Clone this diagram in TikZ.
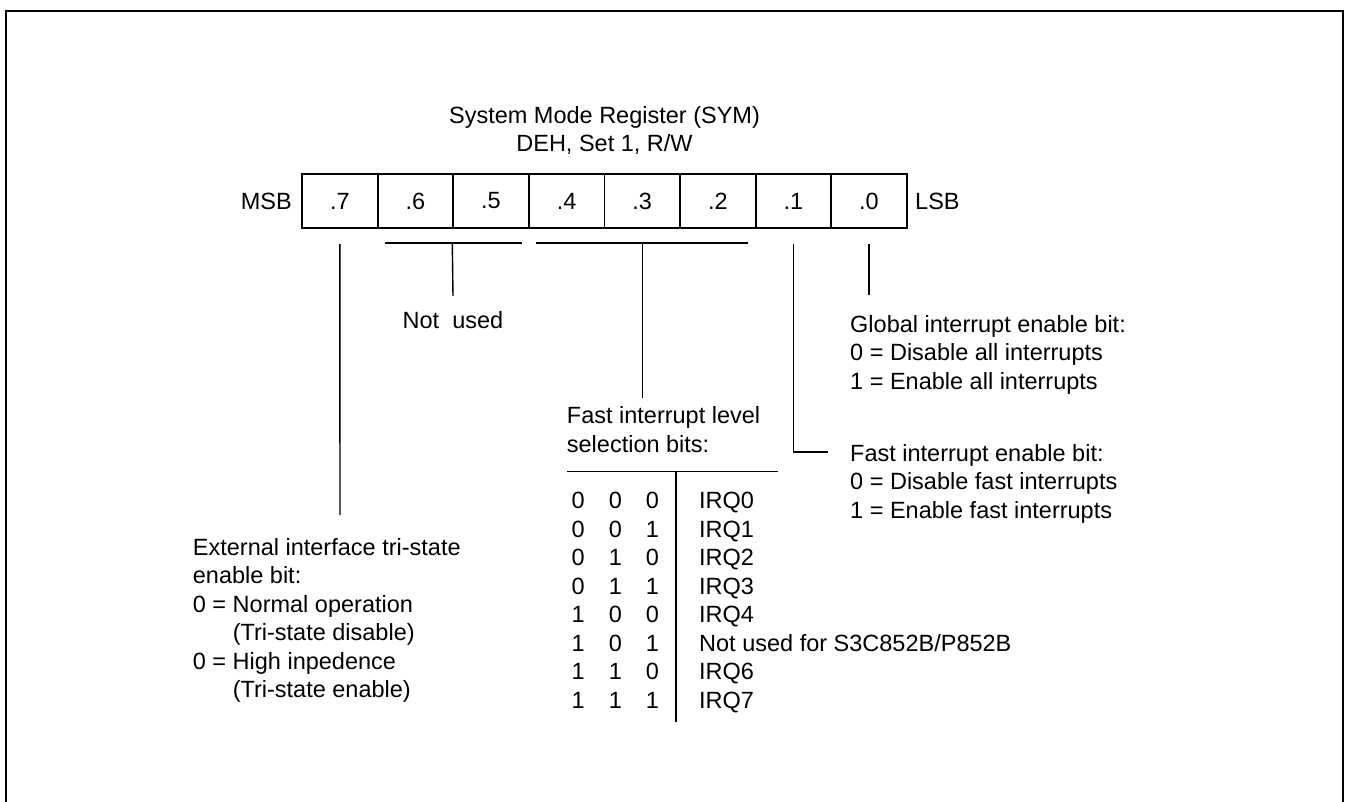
\documentclass[tikz,border=0pt]{standalone}
\usepackage{fontspec}
\setmainfont{Liberation Sans}
\begin{document}
\begin{tikzpicture}[x=1pt,y=-1pt,
  txt/.style={font=\fontsize{23.5}{28.5}\selectfont, inner sep=0pt},
  cell/.style={txt, draw, line width=1.8pt, minimum width=75.6pt, minimum height=53.4pt, anchor=center},
  conn/.style={line width=1.4pt},
  frame/.style={line width=2.2pt}]
\useasboundingbox (0,0) rectangle (1345,802);
\draw[frame] (6,802) -- (6,11) -- (1343.3,11) -- (1343.3,802);
% title
\node[txt, anchor=base] (t1) at (604.5,123.5) {System Mode Register (SYM)};
\node[txt, anchor=base] (t2) at (604.5,152) {DEH, Set 1, R/W};
% register
\node[cell] (b7) at (339.8,201) {.7};
\node[cell] (b6) at (415.4,201) {.6};
\node[cell] (b5) at (491.0,201) {.5};
\node[cell] (b4) at (566.6,201) {.4};
\node[cell] (b3) at (642.2,201) {.3};
\node[cell] (b2) at (717.8,201) {.2};
\node[cell] (b1) at (793.4,201) {.1};
\node[cell] (b0) at (869.0,201) {.0};
\node[txt, anchor=base east] (msb) at (292,210) {MSB};
\node[txt, anchor=base west] (lsb) at (915,210) {LSB};
% descriptions
\node[txt, anchor=base] (nu) at (453,329) {Not\ \ used};
\node[txt, anchor=base west] (glob) at (850,332.5) {\begin{tabular}[t]{@{}l@{}}Global interrupt enable bit:\\0 = Disable all interrupts\\1 = Enable all interrupts\end{tabular}};
\node[txt, anchor=base west] (fie) at (850,461) {\begin{tabular}[t]{@{}l@{}}Fast interrupt enable bit:\\0 = Disable fast interrupts\\1 = Enable fast interrupts\end{tabular}};
\node[txt, anchor=base west] (fil) at (566.7,423.5) {\begin{tabular}[t]{@{}l@{}}Fast interrupt level\\selection bits:\end{tabular}};
\node[txt, anchor=base west] (ext) at (192.7,555) {\begin{tabular}[t]{@{}l@{}}External interface tri-state\\enable bit:\\0 = Normal operation\\\hphantom{0 = }(Tri-state disable)\\0 = High inpedence\\\hphantom{0 = }(Tri-state enable)\end{tabular}};
\node[txt, anchor=base west] (bits) at (571.5,508.5) {\begin{tabular}[t]{@{}c@{\hspace{24pt}}c@{\hspace{24pt}}c@{}}0&0&0\\0&0&1\\0&1&0\\0&1&1\\1&0&0\\1&0&1\\1&1&0\\1&1&1\end{tabular}};
\node[txt, anchor=base west] (irq) at (699,508.5) {\begin{tabular}[t]{@{}l@{}}IRQ0\\IRQ1\\IRQ2\\IRQ3\\IRQ4\\Not used for S3C852B/P852B\\IRQ6\\IRQ7\end{tabular}};
% connectors
\coordinate (k7) at (340,515);
\draw[conn] ([yshift=-15.5pt]b7.south) -- (k7);
\draw[conn] (385,243) -- (522,243);
\draw[conn] ([yshift=-15.5pt]b5.south west) -- ([yshift=16pt]nu.north);
\draw[conn] (536,243) -- (748,243);
\draw[conn] ([yshift=-15.5pt]b3.south) -- (642.2,398);
\coordinate (k1) at (828,452);
\draw[conn] ([yshift=-15.5pt]b1.south) |- (k1);
\draw[conn] ([yshift=-15.5pt]b0.south) -- (869,295);
\coordinate (tl) at (566.7,471.7);
\coordinate (tr) at (778.3,471.7);
\draw[conn] (tl) -- (tr);
\coordinate (vb) at (676,722);
\draw[conn] (676,471.7) -- (vb);
\end{tikzpicture}
\end{document}
